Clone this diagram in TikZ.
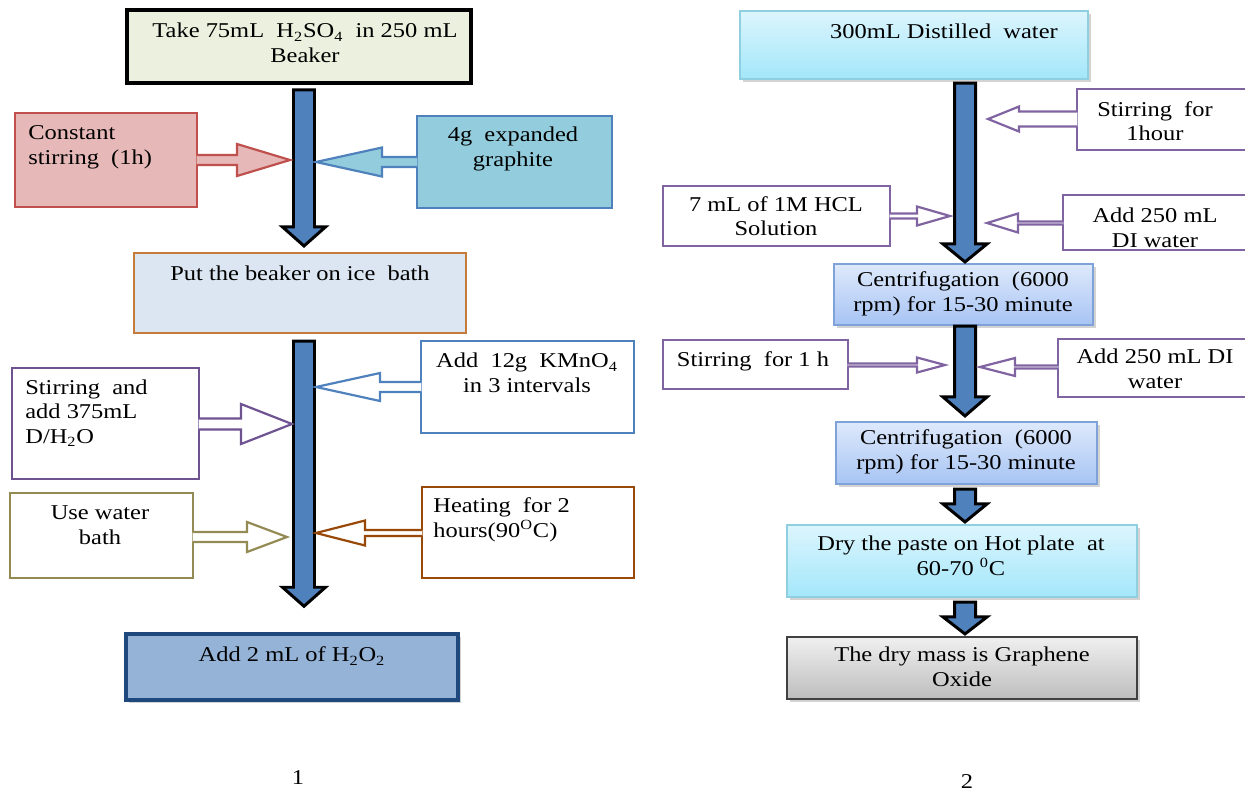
\documentclass[tikz,border=0pt]{standalone}
\usepackage{fontspec}
\setmainfont{Liberation Serif}[FakeStretch=1.16]
\usetikzlibrary{calc, fit, shadows}

\definecolor{flowblue}{HTML}{4F81BD}
\definecolor{takefill}{HTML}{EBF1DE}
\definecolor{stirfill}{HTML}{E6B9B8}
\definecolor{stirline}{HTML}{C0504D}
\definecolor{graphfill}{HTML}{93CDDD}
\definecolor{graphline}{HTML}{4F81BD}
\definecolor{icefill}{HTML}{DCE6F2}
\definecolor{iceline}{HTML}{C57C3A}
\definecolor{lpurple}{HTML}{6F5290}
\definecolor{rpurple}{HTML}{8064A2}
\definecolor{olive}{HTML}{948A54}
\definecolor{brownline}{HTML}{984807}
\definecolor{hoofill}{HTML}{95B3D7}
\definecolor{hooline}{HTML}{1F497D}
\definecolor{cyantop}{HTML}{DCF5FD}
\definecolor{cyanbot}{HTML}{A3E7FA}
\definecolor{cyanline}{HTML}{8FCFE0}
\definecolor{bluetop}{HTML}{DEE9FB}
\definecolor{bluebot}{HTML}{A7C4F4}
\definecolor{blueline}{HTML}{7FA3D9}
\definecolor{graytop}{HTML}{F0F0F0}
\definecolor{graybot}{HTML}{BDBDBD}

% big block arrow down a column: column, from, to, start gap, end gap, half shaft, half head, head length
\newcommand{\mainflow}[8]{%
  \draw[flow]
    ($(#1 |- #2)+(-#6,#4)$) -- ($(#1 |- #3)+(-#6,-#5-#8)$) -- ($(#1 |- #3)+(-#7,-#5-#8)$) --
    ($(#1 |- #3)+(0,-#5)$) -- ($(#1 |- #3)+(#7,-#5-#8)$) -- ($(#1 |- #3)+(#6,-#5-#8)$) --
    ($(#1 |- #2)+(#6,#4)$) -- cycle;}

% hollow side arrow: style, box side, tip, half shaft, half head, head length (signed)
\newcommand{\sideflow}[6]{%
  \draw[#1] ($(#3 -| #2)+({1.5*sign(#6)},-#4)$) -- ($(#3)+(#6,-#4)$) -- ($(#3)+(#6,-#5)$) -- (#3)
    -- ($(#3)+(#6,#5)$) -- ($(#3)+(#6,#4)$) -- ($(#3 -| #2)+({1.5*sign(#6)},#4)$);}

\begin{document}
\begin{tikzpicture}[x=0.02cm, y=-0.02cm,
  box/.style={draw, rectangle, inner sep=0pt, line width=1.2pt},
  txt/.style={align=center, inner sep=0pt, font=\fontsize{12}{14}\selectfont},
  flow/.style={fill=flowblue, draw=black, line width=1.7pt, line join=miter},
  side/.style={draw=#1, fill=white, line width=1.25pt, line join=miter},
  shade/.style={drop shadow={shadow xshift=0.05cm, shadow yshift=-0.05cm, opacity=0.35}}]
\path[use as bounding box] (0,0) rectangle (1245,792);
\clip (0,0) rectangle (1245,792);

% left chart
\node[box, fill=takefill, line width=2pt, fit={(127,10) (471,83)}] (take) {};
\node[box, fill=stirfill, draw=stirline, fit={(15,113) (197,207)}] (stir) {};
\node[box, fill=graphfill, draw=graphline, fit={(417,116) (612,208)}] (graph) {};
\node[box, fill=icefill, draw=iceline, fit={(134,253) (466,333)}] (ice) {};
\node[box, draw=lpurple, fit={(12,368) (199,479)}] (dilute) {};
\node[box, draw=graphline, fit={(421,341) (634,433)}] (kmno) {};
\node[box, draw=olive, fit={(10,493) (193,578)}] (bath) {};
\node[box, draw=brownline, fit={(422,487) (634,578)}] (heat) {};
\node[box, fill=hoofill, draw=hooline, line width=2pt, shade, fit={(126,634) (458,700)}] (perox) {};

\node[txt] (takeT) at (305,43) {Take 75mL\ \ H\textsubscript{2}SO\textsubscript{4}\ \ in 250 mL\\Beaker};
\node[txt, anchor=west, align=left] (stirT) at (28,147) {Constant\\stirring\ \ (1h)};
\node[txt] (graphT) at (513,149) {4g\ \ expanded\\graphite};
\node[txt] (iceT) at (300,273) {Put the beaker on ice\ \ bath};
\node[txt, anchor=west, align=left] (diluteT) at (25,413) {Stirring\ \ and\\add 375mL\\D/H\textsubscript{2}O};
\node[txt] (kmnoT) at (527,373) {Add\ \ 12g\ \ KMnO\textsubscript{4}\\in 3 intervals};
\node[txt] (bathT) at (100,525) {Use water\\bath};
\node[txt, anchor=west, align=left] (heatT) at (433,520) {Heating\ \ for 2\\hours(90\textsuperscript{O}C)};
\node[txt] (peroxT) at (292,656) {Add 2 mL of H\textsubscript{2}O\textsubscript{2}};
\node[txt] (one) at (298,778) {1};

\coordinate (lcol) at (304,0);
\mainflow{lcol}{take.south}{ice.north}{5}{6}{10.5}{21.5}{19}
\mainflow{lcol}{ice.south}{perox.north}{7}{26}{10.5}{21.5}{19}

\coordinate (t1) at (290,160);
\coordinate (t2) at (316,162);
\coordinate (t3) at (292,424);
\coordinate (t4) at (316,387);
\coordinate (t5) at (287,537);
\coordinate (t6) at (316,533);
\sideflow{side=stirline, fill=stirfill}{stir.east}{t1}{5}{16}{-53}
\sideflow{side=graphline, fill=graphfill}{graph.west}{t2}{5}{14.5}{66}
\sideflow{side=lpurple}{dilute.east}{t3}{5.5}{20}{-51}
\sideflow{side=graphline}{kmno.west}{t4}{5}{14}{64}
\sideflow{side=olive}{bath.east}{t5}{5}{15}{-40}
\sideflow{side=brownline}{heat.west}{t6}{3}{12.5}{49}

% right chart
\node[box, top color=cyantop, bottom color=cyanbot, draw=cyanline, shade, fit={(740,11) (1088,79)}] (water) {};
\node[box, draw=rpurple, fit={(1077,89) (1250,150)}] (stirhr) {};
\node[box, draw=rpurple, fit={(663,186) (890,246)}] (hcl) {};
\node[box, draw=rpurple, fit={(1063,195) (1250,250)}] (addA) {};
\node[box, top color=bluetop, bottom color=bluebot, draw=blueline, shade, fit={(834,264) (1093,325)}] (cenA) {};
\node[box, draw=rpurple, fit={(663,340) (848,389)}] (stirh) {};
\node[box, draw=rpurple, fit={(1058,339) (1250,397)}] (addB) {};
\node[box, top color=bluetop, bottom color=bluebot, draw=blueline, shade, fit={(836,422) (1097,484)}] (cenB) {};
\node[box, top color=cyantop, bottom color=cyanbot, draw=cyanline, shade, fit={(787,525) (1137,597)}] (dry) {};
\node[box, top color=graytop, bottom color=graybot, draw=black!75, shade, fit={(787,637) (1137,699)}] (mass) {};

\node[txt] (waterT) at (944,31) {300mL Distilled\ \ water};
\node[txt] (stirhrT) at (1155,121) {Stirring\ \ for\\1hour};
\node[txt] (hclT) at (776,216) {7 mL of 1M HCL\\Solution};
\node[txt] (addAT) at (1155,228) {Add 250 mL\\DI water};
\node[txt] (cenAT) at (963,294) {Centrifugation\ \ (6000\\rpm) for 15-30 minute};
\node[txt] (stirhT) at (753,361) {Stirring\ \ for 1 h};
\node[txt] (addBT) at (1155,369) {Add 250 mL DI\\water};
\node[txt] (cenBT) at (966,452) {Centrifugation\ \ (6000\\rpm) for 15-30 minute};
\node[txt] (dryT) at (961,556) {Dry the paste on Hot plate\ \ at\\60-70 \textsuperscript{0}C};
\node[txt] (massT) at (962,667) {The dry mass is Graphene\\Oxide};
\node[txt] (two) at (967,782) {2};

\coordinate (rcol) at (965,0);
\mainflow{rcol}{water.south}{cenA.north}{3}{1}{10.5}{22}{18}
\mainflow{rcol}{cenA.south}{cenB.north}{0}{5}{10.5}{22}{19}
\mainflow{rcol}{cenB.south}{dry.north}{4}{2}{10.5}{22}{18}
\mainflow{rcol}{dry.south}{mass.north}{4}{2}{10.5}{22}{17}

\coordinate (t7) at (988,119);
\coordinate (t8) at (950,216);
\coordinate (t9) at (987,223);
\coordinate (t10) at (945,365);
\coordinate (t11) at (980,367);
\sideflow{side=rpurple}{stirhr.west}{t7}{7.5}{12.5}{31}
\sideflow{side=rpurple}{hcl.east}{t8}{2.5}{9.5}{-33}
\sideflow{side=rpurple}{addA.west}{t9}{1.5}{9.5}{31}
\sideflow{side=rpurple}{stirh.east}{t10}{1.5}{7.5}{-28}
\sideflow{side=rpurple}{addB.west}{t11}{1.5}{9}{35}
\end{tikzpicture}
\end{document}
